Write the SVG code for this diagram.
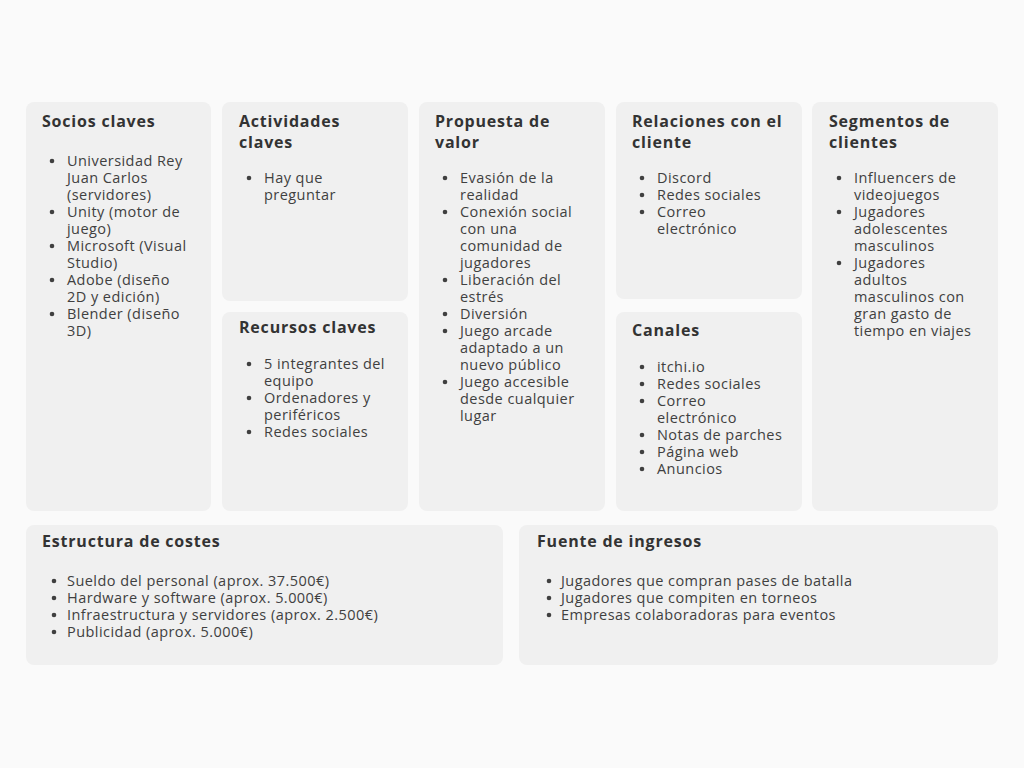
<svg xmlns="http://www.w3.org/2000/svg" width="1024" height="768" viewBox="0 0 1024 768">
<style>
.bg{fill:#fafafa}
.box{fill:#f0f0f0}
.t{font-family:"Open Sans","Noto Sans","DejaVu Sans",sans-serif;font-size:16px;font-weight:700;fill:#333333;letter-spacing:0.8px}
.b{font-family:"Open Sans","Noto Sans","DejaVu Sans",sans-serif;font-size:14.5px;fill:#404040;letter-spacing:0.45px}
.d{fill:#404040}
</style>
<defs>
<circle id="dot" r="2.3" class="d"/>
</defs>
<rect class="bg" x="0" y="0" width="1024" height="768"/>

<g id="socios">
<rect class="box" x="26" y="102" width="185" height="409" rx="8"/>
<text class="t" x="42" y="127">Socios claves</text>
<use href="#dot" x="52" y="161"/><use href="#dot" x="52" y="212"/><use href="#dot" x="52" y="246"/><use href="#dot" x="52" y="280"/><use href="#dot" x="52" y="314"/>
<text class="b">
<tspan x="67" y="166">Universidad Rey</tspan>
<tspan x="67" y="183">Juan Carlos</tspan>
<tspan x="67" y="200">(servidores)</tspan>
<tspan x="67" y="217">Unity (motor de</tspan>
<tspan x="67" y="234">juego)</tspan>
<tspan x="67" y="251">Microsoft (Visual</tspan>
<tspan x="67" y="268">Studio)</tspan>
<tspan x="67" y="285">Adobe (diseño</tspan>
<tspan x="67" y="302">2D y edición)</tspan>
<tspan x="67" y="319">Blender (diseño</tspan>
<tspan x="67" y="336">3D)</tspan>
</text>
</g>

<g id="actividades">
<rect class="box" x="222" y="102" width="186" height="199" rx="8"/>
<text class="t"><tspan x="239" y="127">Actividades</tspan><tspan x="239" y="148">claves</tspan></text>
<use href="#dot" x="249" y="178"/>
<text class="b">
<tspan x="264" y="183">Hay que</tspan>
<tspan x="264" y="200">preguntar</tspan>
</text>
</g>

<g id="recursos">
<rect class="box" x="222" y="312" width="186" height="199" rx="8"/>
<text class="t" x="239" y="333">Recursos claves</text>
<use href="#dot" x="249" y="364"/><use href="#dot" x="249" y="398"/><use href="#dot" x="249" y="432"/>
<text class="b">
<tspan x="264" y="369">5 integrantes del</tspan>
<tspan x="264" y="386">equipo</tspan>
<tspan x="264" y="403">Ordenadores y</tspan>
<tspan x="264" y="420">periféricos</tspan>
<tspan x="264" y="437">Redes sociales</tspan>
</text>
</g>

<g id="propuesta">
<rect class="box" x="419" y="102" width="186" height="409" rx="8"/>
<text class="t"><tspan x="435" y="127">Propuesta de</tspan><tspan x="435" y="148">valor</tspan></text>
<use href="#dot" x="445" y="178"/><use href="#dot" x="445" y="212"/><use href="#dot" x="445" y="280"/><use href="#dot" x="445" y="314"/><use href="#dot" x="445" y="331"/><use href="#dot" x="445" y="382"/>
<text class="b">
<tspan x="460" y="183">Evasión de la</tspan>
<tspan x="460" y="200">realidad</tspan>
<tspan x="460" y="217">Conexión social</tspan>
<tspan x="460" y="234">con una</tspan>
<tspan x="460" y="251">comunidad de</tspan>
<tspan x="460" y="268">jugadores</tspan>
<tspan x="460" y="285">Liberación del</tspan>
<tspan x="460" y="302">estrés</tspan>
<tspan x="460" y="319">Diversión</tspan>
<tspan x="460" y="336">Juego arcade</tspan>
<tspan x="460" y="353">adaptado a un</tspan>
<tspan x="460" y="370">nuevo público</tspan>
<tspan x="460" y="387">Juego accesible</tspan>
<tspan x="460" y="404">desde cualquier</tspan>
<tspan x="460" y="421">lugar</tspan>
</text>
</g>

<g id="relaciones">
<rect class="box" x="616" y="102" width="186" height="197" rx="8"/>
<text class="t"><tspan x="632" y="127">Relaciones con el</tspan><tspan x="632" y="148">cliente</tspan></text>
<use href="#dot" x="642" y="178"/><use href="#dot" x="642" y="195"/><use href="#dot" x="642" y="212"/>
<text class="b">
<tspan x="657" y="183">Discord</tspan>
<tspan x="657" y="200">Redes sociales</tspan>
<tspan x="657" y="217">Correo</tspan>
<tspan x="657" y="234">electrónico</tspan>
</text>
</g>

<g id="canales">
<rect class="box" x="616" y="312" width="186" height="199" rx="8"/>
<text class="t" x="632" y="336">Canales</text>
<use href="#dot" x="642" y="367"/><use href="#dot" x="642" y="384"/><use href="#dot" x="642" y="401"/><use href="#dot" x="642" y="435"/><use href="#dot" x="642" y="452"/><use href="#dot" x="642" y="469"/>
<text class="b">
<tspan x="657" y="372">itchi.io</tspan>
<tspan x="657" y="389">Redes sociales</tspan>
<tspan x="657" y="406">Correo</tspan>
<tspan x="657" y="423">electrónico</tspan>
<tspan x="657" y="440">Notas de parches</tspan>
<tspan x="657" y="457">Página web</tspan>
<tspan x="657" y="474">Anuncios</tspan>
</text>
</g>

<g id="segmentos">
<rect class="box" x="812" y="102" width="186" height="409" rx="8"/>
<text class="t"><tspan x="829" y="127">Segmentos de</tspan><tspan x="829" y="148">clientes</tspan></text>
<use href="#dot" x="839" y="178"/><use href="#dot" x="839" y="212"/><use href="#dot" x="839" y="263"/>
<text class="b">
<tspan x="854" y="183">Influencers de</tspan>
<tspan x="854" y="200">videojuegos</tspan>
<tspan x="854" y="217">Jugadores</tspan>
<tspan x="854" y="234">adolescentes</tspan>
<tspan x="854" y="251">masculinos</tspan>
<tspan x="854" y="268">Jugadores</tspan>
<tspan x="854" y="285">adultos</tspan>
<tspan x="854" y="302">masculinos con</tspan>
<tspan x="854" y="319">gran gasto de</tspan>
<tspan x="854" y="336">tiempo en viajes</tspan>
</text>
</g>

<g id="estructura">
<rect class="box" x="26" y="525" width="477" height="140" rx="8"/>
<text class="t" x="42" y="547">Estructura de costes</text>
<use href="#dot" x="54" y="581"/><use href="#dot" x="54" y="598"/><use href="#dot" x="54" y="615"/><use href="#dot" x="54" y="632"/>
<text class="b">
<tspan x="67" y="586">Sueldo del personal (aprox. 37.500€)</tspan>
<tspan x="67" y="603">Hardware y software (aprox. 5.000€)</tspan>
<tspan x="67" y="620">Infraestructura y servidores (aprox. 2.500€)</tspan>
<tspan x="67" y="637">Publicidad (aprox. 5.000€)</tspan>
</text>
</g>

<g id="fuente">
<rect class="box" x="519" y="525" width="479" height="140" rx="8"/>
<text class="t" x="537" y="547">Fuente de ingresos</text>
<use href="#dot" x="549" y="581"/><use href="#dot" x="549" y="598"/><use href="#dot" x="549" y="615"/>
<text class="b">
<tspan x="561" y="586">Jugadores que compran pases de batalla</tspan>
<tspan x="561" y="603">Jugadores que compiten en torneos</tspan>
<tspan x="561" y="620">Empresas colaboradoras para eventos</tspan>
</text>
</g>

<g id="connectors"/>
</svg>
